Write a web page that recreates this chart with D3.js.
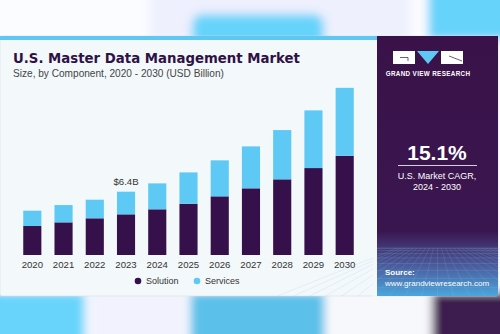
<!DOCTYPE html>
<html>
<head>
<meta charset="utf-8">
<script src="https://cdn.jsdelivr.net/npm/d3@7"></script>
<style>
  html, body { margin: 0; padding: 0; background: #fff; }
  svg { display: block; font-family: "Liberation Sans", Arial, sans-serif; }
</style>
</head>
<body>
<div id="chart"></div>
<script>
// values, USD billion
var years = ["2020","2021","2022","2023","2024","2025","2026","2027","2028","2029","2030"];
var solution = [2.93, 3.30, 3.71, 4.11, 4.62, 5.18, 5.93, 6.74, 7.65, 8.79, 10.03];
var services = [1.55, 1.75, 1.88, 2.29, 2.62, 3.17, 3.64, 4.24, 4.98, 5.83, 6.87];
var seriesNames = ["Solution", "Services"];
var seriesColors = ["#35104a", "#5dc9f4"];
var callout = {year: "2023", text: "$6.4B"};

var W = 500, H = 334;
var svg = d3.select("#chart").append("svg").attr("width", W).attr("height", H);
var defs = svg.append("defs");

// blurry backdrop above and below the card
defs.append("filter").attr("id", "blur").attr("x", "-20%").attr("y", "-50%").attr("width", "140%").attr("height", "200%")
  .append("feGaussianBlur").attr("stdDeviation", 5);
var bg = svg.append("g").attr("filter", "url(#blur)");
bg.append("rect").attr("x", -20).attr("y", -20).attr("width", 540).attr("height", 380).attr("fill", "#fbfcff");
bg.append("rect").attr("x", 150).attr("y", -20).attr("width", 260).attr("height", 60).attr("fill", "#eef0fd");
bg.append("rect").attr("x", 192).attr("y", 14).attr("width", 132).attr("height", 40).attr("rx", 10).attr("fill", "#66d3fb");
bg.append("rect").attr("x", 428).attr("y", -20).attr("width", 100).attr("height", 60).attr("fill", "#66d3fb");
bg.append("rect").attr("x", -20).attr("y", 292).attr("width", 105).attr("height", 60).attr("fill", "#67d4fc");
bg.append("rect").attr("x", 90).attr("y", 292).attr("width", 95).attr("height", 60).attr("fill", "#f1f2fd");
bg.append("rect").attr("x", 190).attr("y", 292).attr("width", 135).attr("height", 60).attr("fill", "#5cc1ea");
bg.append("rect").attr("x", 330).attr("y", 292).attr("width", 95).attr("height", 60).attr("fill", "#f7f8fb");
bg.append("rect").attr("x", 432).attr("y", 292).attr("width", 100).attr("height", 60).attr("fill", "#3e1a50");

// card
var card = {x: 0, y: 36, w: 498, h: 260};
svg.append("rect").attr("x", card.x).attr("y", card.y).attr("width", card.w).attr("height", card.h)
  .attr("rx", 2).attr("fill", "#f3f8fb").attr("stroke", "#d8dde2").attr("stroke-width", 0.6);
svg.append("rect").attr("x", card.x).attr("y", card.y).attr("width", 377).attr("height", 4).attr("fill", "#5ec8f2");

// right panel
var px = 377, pw = card.x + card.w - px;
var pg = defs.append("linearGradient").attr("id", "pgrad").attr("x1", 0).attr("y1", 0).attr("x2", 0).attr("y2", 1);
pg.append("stop").attr("offset", "0%").attr("stop-color", "#3a1249");
pg.append("stop").attr("offset", "75%").attr("stop-color", "#3a1650");
pg.append("stop").attr("offset", "88%").attr("stop-color", "#4a5a9a");
pg.append("stop").attr("offset", "100%").attr("stop-color", "#4ba6dc");
svg.append("rect").attr("x", px).attr("y", card.y).attr("width", pw).attr("height", card.h).attr("fill", "url(#pgrad)");

// faint perspective grid at the bottom of the panel
var grid = svg.append("g").attr("stroke", "#8fb8e6").attr("stroke-opacity", 0.35).attr("stroke-width", 0.5);
var gy = d3.range(0, 9).map(function(i){ return 248 + i * i * 0.62; });
gy.forEach(function(y){ grid.append("line").attr("x1", px).attr("x2", px + pw).attr("y1", y).attr("y2", y); });
d3.range(-10, 22).forEach(function(i){
  var xt = px + pw / 2 + i * 4, xb = px + pw / 2 + i * 16;
  grid.append("line").attr("x1", xt).attr("y1", 248).attr("x2", xb).attr("y2", 296);
});
svg.append("rect").attr("x", px - 4).attr("y", 240).attr("width", 4).attr("height", 60).attr("fill", "#f3f8fb");

// logo
var logo = svg.append("g");
logo.append("rect").attr("x", 393).attr("y", 51).attr("width", 22).attr("height", 13).attr("fill", "#fff");
logo.append("path").attr("d", "M400,57.5 L408,57.5 L408,61").attr("stroke", "#3a1249").attr("stroke-width", 0.7).attr("fill", "none");
logo.append("path").attr("d", "M417,51 L439,51 L428,64 Z").attr("fill", "#5ec8f2");
logo.append("rect").attr("x", 441).attr("y", 51).attr("width", 22).attr("height", 13).attr("fill", "#fff");
logo.append("path").attr("d", "M449,56 L462,61").attr("stroke", "#3a1249").attr("stroke-width", 0.7);
logo.append("text").attr("x", 428).attr("y", 76).attr("text-anchor", "middle").attr("fill", "#fff")
  .attr("font-size", 6.3).attr("font-weight", "bold").attr("letter-spacing", 0.35).text("GRAND VIEW RESEARCH");

var cx = 437;
svg.append("text").attr("x", cx).attr("y", 160).attr("text-anchor", "middle").attr("fill", "#fff")
  .attr("font-size", 21).attr("font-weight", "bold").text("15.1%");
svg.append("line").attr("x1", 398).attr("x2", 477).attr("y1", 165.5).attr("y2", 165.5).attr("stroke", "#fff").attr("stroke-width", 0.8);
svg.append("text").attr("x", cx).attr("y", 179).attr("text-anchor", "middle").attr("fill", "#fff")
  .attr("font-size", 9).text("U.S. Market CAGR,");
svg.append("text").attr("x", cx).attr("y", 189.5).attr("text-anchor", "middle").attr("fill", "#fff")
  .attr("font-size", 9).text("2024 - 2030");
svg.append("text").attr("x", 385).attr("y", 275).attr("fill", "#fff").attr("font-size", 8).attr("font-weight", "bold").text("Source:");
svg.append("text").attr("x", 385).attr("y", 286).attr("fill", "#fff").attr("font-size", 8).text("www.grandviewresearch.com");

// titles
svg.append("text").attr("x", 13).attr("y", 63).attr("fill", "#2e1246").attr("font-size", 13.3)
  .attr("font-family", "DejaVu Sans, sans-serif")
  .attr("font-weight", "bold").text("U.S. Master Data Management Market");
svg.append("text").attr("x", 13).attr("y", 76.5).attr("fill", "#444").attr("font-size", 10.1)
  .text("Size, by Component, 2020 - 2030 (USD Billion)");

// bars
var data = years.map(function(y, i){ return {year: y, Solution: solution[i], Services: services[i]}; });
var stack = d3.stack().keys(seriesNames)(data);
var baseY = 255;
var x = d3.scaleBand().domain(years).range([17, 360]).paddingInner(0.42).paddingOuter(0.2);
var y = d3.scaleLinear().domain([0, 6.4]).range([baseY, baseY - 63.3]);
var color = d3.scaleOrdinal().domain(seriesNames).range(seriesColors);

svg.append("g").selectAll("g").data(stack).join("g").attr("fill", function(d){ return color(d.key); })
  .selectAll("rect").data(function(d){ return d; }).join("rect")
  .attr("x", function(d){ return x(d.data.year); })
  .attr("y", function(d){ return y(d[1]); })
  .attr("height", function(d){ return y(d[0]) - y(d[1]); })
  .attr("width", x.bandwidth());

var xAxis = svg.append("g").attr("transform", "translate(0," + baseY + ")")
  .call(d3.axisBottom(x).tickSize(0).tickPadding(6));
xAxis.select(".domain").remove();
xAxis.selectAll("text").attr("font-size", 9.6).attr("fill", "#333").attr("font-family", "Liberation Sans, Arial, sans-serif");

var ci = years.indexOf(callout.year);
svg.append("text").attr("x", x(callout.year) + x.bandwidth() / 2).attr("y", y(solution[ci] + services[ci]) - 7)
  .attr("text-anchor", "middle").attr("font-size", 9.6).attr("fill", "#333").text(callout.text);

// legend
var legend = svg.append("g").selectAll("g").data(seriesNames).join("g")
  .attr("transform", function(d, i){ return "translate(" + (138 + i * 59) + ",281)"; });
legend.append("circle").attr("r", 3.3).attr("fill", function(d){ return color(d); });
legend.append("text").attr("x", 8).attr("y", 3.3).attr("font-size", 9).attr("fill", "#333").text(function(d){ return d; });
</script>
</body>
</html>
